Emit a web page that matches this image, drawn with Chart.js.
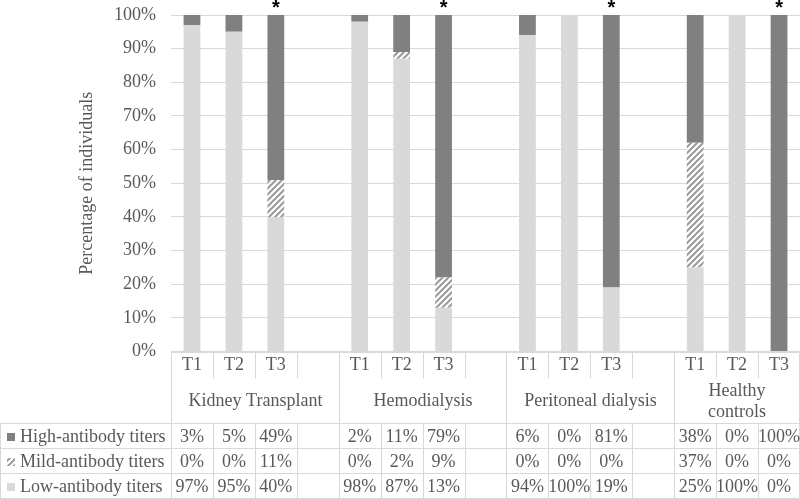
<!DOCTYPE html>
<html>
<head>
<meta charset="utf-8">
<script src="https://cdn.jsdelivr.net/npm/chart.js@4.4.1/dist/chart.umd.min.js"></script>
<style>
  html, body { margin: 0; padding: 0; background: #fff; }
  #wrap { width: 800px; height: 499px; position: relative; }
</style>
</head>
<body>
<div id="wrap"><canvas id="chart"></canvas></div>
<script>
// ─── Data ─────────────────────────────────────────────────────────────────────
const LABELS = ["T1", "T2", "T3", "", "T1", "T2", "T3", "", "T1", "T2", "T3", "", "T1", "T2", "T3"];
const GROUPS = ["Kidney Transplant", "Hemodialysis", "Peritoneal dialysis", ["Healthy", "controls"]];
const GROUP_START = [0, 4, 8, 12];
const GROUP_SPAN = [4, 4, 4, 3];
const SERIES_NAMES = ["High-antibody titers", "Mild-antibody titers", "Low-antibody titers"];
const HIGH = [3, 5, 49, null, 2, 11, 79, null, 6, 0, 81, null, 38, 0, 100];
const MILD = [0, 0, 11, null, 0, 2, 9, null, 0, 0, 0, null, 37, 0, 0];
const LOW = [97, 95, 40, null, 98, 87, 13, null, 94, 100, 19, null, 25, 100, 0];
const STARRED = [2, 6, 10, 14];
const Y_TICKS = [0, 10, 20, 30, 40, 50, 60, 70, 80, 90, 100];

const FONT = "'Liberation Serif', 'Times New Roman', serif";
const TEXT = "#595959";
const LINE = "#d9d9d9";
const DARK = "#808080";
const LIGHT = "#d9d9d9";

// ─── Hatch pattern ────────────────────────────────────────────────────────────
function makeHatch() {
    const c = document.createElement("canvas");
    c.width = 6;
    c.height = 6;
    const g = c.getContext("2d");
    g.fillStyle = "#fff";
    g.fillRect(0, 0, 6, 6);
    g.strokeStyle = "#9a9a9a";
    g.lineWidth = 2;
    g.beginPath();
    g.moveTo(-1, 7); g.lineTo(7, -1);
    g.moveTo(-4, 4); g.lineTo(4, -4);
    g.moveTo(2, 10); g.lineTo(10, 2);
    g.stroke();
    return g.createPattern(c, "repeat");
}
const HATCH = makeHatch();

// ─── Table under the chart ────────────────────────────────────────────────────
const tablePlugin = {
    id: "dataTable",
    afterDraw(chart) {
        const ctx = chart.ctx;
        const xs = chart.scales.x;
        const area = chart.chartArea;
        const step = xs.getPixelForValue(1) - xs.getPixelForValue(0);
        const edge = (i) => Math.round(xs.getPixelForValue(i) - step / 2) + 0.5;
        const top = Math.round(area.bottom) + 0.5;
        const tRow = top + 26;
        const gRow = 423.5;
        const rowH = 25;
        const bottom = gRow + rowH * 3;
        const right = 799.5;

        ctx.save();
        ctx.strokeStyle = LINE;
        ctx.lineWidth = 1;
        ctx.beginPath();
        // horizontal lines
        ctx.moveTo(edge(0), top); ctx.lineTo(right, top);
        for (let r = 0; r <= 3; r++) {
            ctx.moveTo(0, gRow + r * rowH); ctx.lineTo(right, gRow + r * rowH);
        }
        // vertical lines
        for (let i = 0; i <= LABELS.length; i++) {
            const x = i === LABELS.length ? right : edge(i);
            const isGroup = GROUP_START.includes(i) || i === LABELS.length;
            ctx.moveTo(x, top);
            ctx.lineTo(x, isGroup ? bottom : tRow);
            if (!isGroup) { ctx.moveTo(x, gRow); ctx.lineTo(x, bottom); }
        }
        ctx.moveTo(0.5, gRow); ctx.lineTo(0.5, bottom);
        ctx.stroke();

        ctx.fillStyle = TEXT;
        ctx.font = "18px " + FONT;
        ctx.textAlign = "center";
        ctx.textBaseline = "middle";
        // T labels
        LABELS.forEach((l, i) => ctx.fillText(l, xs.getPixelForValue(i), top + 13));
        // group labels
        GROUPS.forEach((g, k) => {
            const cx = (edge(GROUP_START[k]) + (k === GROUPS.length - 1 ? right : edge(GROUP_START[k] + GROUP_SPAN[k]))) / 2;
            if (Array.isArray(g)) {
                ctx.fillText(g[0], cx, 391);
                ctx.fillText(g[1], cx, 412);
            } else {
                ctx.fillText(g, cx, 401);
            }
        });
        // values
        [HIGH, MILD, LOW].forEach((arr, r) => {
            const y = gRow + r * rowH + rowH / 2 + 1;
            arr.forEach((v, i) => {
                if (v === null) return;
                ctx.fillText(v + "%", xs.getPixelForValue(i), y);
            });
        });
        // row headers with legend keys
        ctx.textAlign = "left";
        const keys = [DARK, HATCH, LIGHT];
        SERIES_NAMES.forEach((name, r) => {
            const y = gRow + r * rowH + rowH / 2 + 1;
            ctx.fillStyle = keys[r];
            ctx.fillRect(7, Math.round(y - 4), 8, 8);
            ctx.fillStyle = TEXT;
            ctx.fillText(name, 20, y);
        });
        // asterisks
        ctx.fillStyle = "#000";
        ctx.font = "bold 20px 'Liberation Sans', Arial, sans-serif";
        ctx.textAlign = "center";
        ctx.textBaseline = "alphabetic";
        STARRED.forEach((i) => ctx.fillText("*", xs.getPixelForValue(i), 14));
        ctx.restore();
    },
};

// ─── Chart ────────────────────────────────────────────────────────────────────
new Chart(document.getElementById("chart"), {
    type: "bar",
    data: {
        labels: LABELS,
        datasets: [
            { label: SERIES_NAMES[2], data: LOW, backgroundColor: LIGHT },
            { label: SERIES_NAMES[1], data: MILD, backgroundColor: HATCH },
            { label: SERIES_NAMES[0], data: HIGH, backgroundColor: DARK },
        ],
    },
    options: {
        responsive: true,
        maintainAspectRatio: false,
        animation: false,
        layout: { padding: { top: 15, right: 0, bottom: 147.5, left: 0 } },
        datasets: { bar: { categoryPercentage: 1, barPercentage: 0.4, borderWidth: 0 } },
        plugins: { legend: { display: false }, tooltip: { enabled: false } },
        scales: {
            x: { stacked: true, display: false },
            y: {
                stacked: true,
                min: 0,
                max: 100,
                afterBuildTicks: (s) => { s.ticks = Y_TICKS.map((v) => ({ value: v })); },
                afterFit: (s) => { s.width = 171; s.paddingTop = 0; s.paddingBottom = 0; },
                border: { display: false },
                grid: { color: LINE, drawTicks: false },
                ticks: { color: TEXT, font: { family: FONT, size: 18 }, padding: 15, callback: (v) => v + "%" },
                title: {
                    display: true,
                    text: "Percentage of individuals",
                    color: TEXT,
                    font: { family: FONT, size: 18 },
                    padding: { top: 76, bottom: 0 },
                },
            },
        },
    },
    plugins: [tablePlugin],
});
</script>
</body>
</html>
